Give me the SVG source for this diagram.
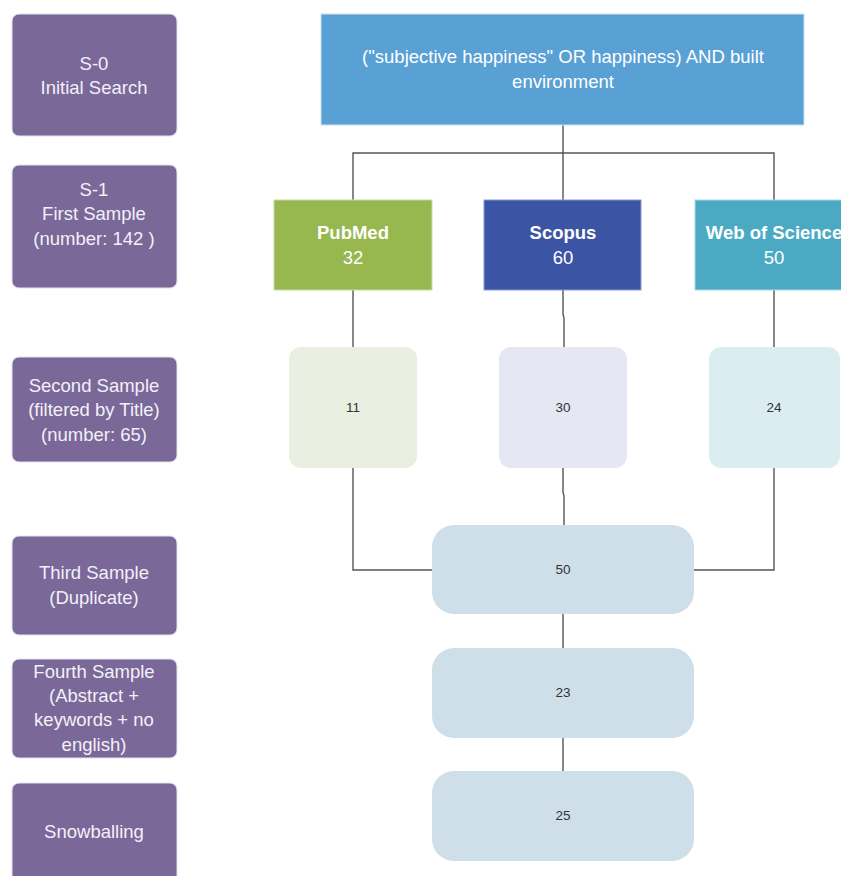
<svg xmlns="http://www.w3.org/2000/svg" width="841" height="876" viewBox="0 0 841 876">
<style>
text{font-family:"Liberation Sans",Arial,sans-serif;text-anchor:middle}
.lbl rect{fill:#7a6898;stroke:#e6e0ee;stroke-width:1}
.lbl text{fill:#f3f0f8;font-size:18.5px}
.db text{fill:#ffffff;font-size:18.5px}
.db .b{font-weight:bold}
.num text{fill:#333;font-size:13.5px}
.big rect{fill:#cedfe9}
.conn path{fill:none;stroke:#555;stroke-width:1.4}
</style>
<rect width="841" height="876" fill="#ffffff"/>
<g class="conn" id="connectors">
<path d="M563 125V153M353 200V153H774V200M563 153V200" stroke="#777"/>
<path d="M353 290V347M563 290V314L564 318V347M774 290V347"/>
<path d="M353 468V570H432M563 468V492L564 496V525M774 468V570H694"/>
<path d="M563 614V648M563 738V771"/>
</g>
<g class="lbl" id="s0"><rect x="12" y="14" width="165" height="122" rx="7"/><text x="94" y="70">S-0</text><text x="94" y="94">Initial Search</text></g>
<g class="lbl" id="s1"><rect x="12" y="165" width="165" height="123" rx="7"/><text x="94" y="196">S-1</text><text x="94" y="220">First Sample</text><text x="94" y="245">(number: 142 )</text></g>
<g class="lbl" id="s2"><rect x="12" y="357" width="165" height="105" rx="7"/><text x="94" y="392">Second Sample</text><text x="94" y="416">(filtered by Title)</text><text x="94" y="441">(number: 65)</text></g>
<g class="lbl" id="s3"><rect x="12" y="536" width="165" height="99" rx="7"/><text x="94" y="579">Third Sample</text><text x="94" y="604">(Duplicate)</text></g>
<g class="lbl" id="s4"><rect x="12" y="659" width="165" height="99" rx="7"/><text x="94" y="678">Fourth Sample</text><text x="94" y="702">(Abstract +</text><text x="94" y="726">keywords + no</text><text x="94" y="751">english)</text></g>
<g class="lbl" id="s5"><rect x="12" y="783" width="165" height="100" rx="7"/><text x="94" y="838">Snowballing</text></g>
<g class="db" id="query"><rect x="321" y="14" width="483" height="111" fill="#59a0d5" stroke="#cfe2f3" stroke-width="1"/><text x="563" y="63">("subjective happiness" OR happiness) AND built</text><text x="563" y="88">environment</text></g>
<g class="db" id="pubmed"><rect x="274" y="200" width="158" height="90" fill="#97b74f" stroke="#c8dba6" stroke-width="1"/><text class="b" x="353" y="239">PubMed</text><text x="353" y="264">32</text></g>
<g class="db" id="scopus"><rect x="484" y="200" width="157" height="90" fill="#3b54a3" stroke="#8a9ad0" stroke-width="1"/><text class="b" x="563" y="239">Scopus</text><text x="563" y="264">60</text></g>
<g class="db" id="wos"><rect x="695" y="200" width="150" height="90" fill="#4aaac4" stroke="#a9dbe8" stroke-width="1"/><text class="b" x="774" y="239">Web of Science</text><text x="774" y="264">50</text></g>
<g class="num" id="n11"><rect x="289" y="347" width="128" height="121" rx="12" fill="#eaf0e1"/><text x="353" y="412">11</text></g>
<g class="num" id="n30"><rect x="499" y="347" width="128" height="121" rx="12" fill="#e5e7f2"/><text x="563" y="412">30</text></g>
<g class="num" id="n24"><rect x="709" y="347" width="131" height="121" rx="12" fill="#dcedf2"/><text x="774" y="412">24</text></g>
<g class="num big" id="n50"><rect x="432" y="525" width="262" height="89" rx="22"/><text x="563" y="574">50</text></g>
<g class="num big" id="n23"><rect x="432" y="648" width="262" height="90" rx="22"/><text x="563" y="697">23</text></g>
<g class="num big" id="n25"><rect x="432" y="771" width="262" height="90" rx="22"/><text x="563" y="820">25</text></g>
</svg>
